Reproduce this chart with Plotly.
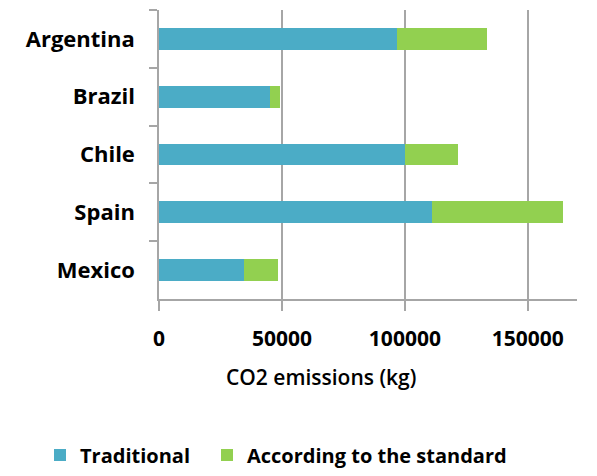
import plotly.graph_objects as go

countries = ["Argentina", "Brazil", "Chile", "Spain", "Mexico"]
traditional = [96700, 45000, 100000, 110900, 34400]
standard = [36600, 4100, 21800, 53600, 14000]
x_ticks = [0, 50000, 100000, 150000]

blue = "#4BACC6"
green = "#92D050"
font_family = "Open Sans"

fig = go.Figure()
fig.add_trace(go.Bar(y=countries, x=traditional, orientation="h", name="Traditional",
                     marker=dict(color=blue, line=dict(width=0)), legend="legend"))
fig.add_trace(go.Bar(y=countries, x=standard, orientation="h", name="According to the standard",
                     marker=dict(color=green, line=dict(width=0)), legend="legend2"))

legend_common = dict(orientation="h", xanchor="left", y=-(455 - 299) / 289, yanchor="middle",
                     font=dict(size=20, family=font_family, weight="bold"), itemwidth=30)

fig.update_layout(
    barmode="stack",
    bargap=0.62,
    width=597, height=476,
    margin=dict(l=159, r=20, t=10, b=177, autoexpand=False),
    plot_bgcolor="white", paper_bgcolor="white",
    font=dict(family=font_family, color="#000000"),
    showlegend=True,
    legend=dict(x=(40 - 159) / 418, **legend_common),
    legend2=dict(x=(207 - 159) / 418, **legend_common),
    annotations=[dict(text="CO2 emissions (kg)", xref="paper", yref="paper",
                      x=(321 - 159) / 418, y=-78 / 289, xanchor="center", yanchor="middle",
                      showarrow=False, font=dict(size=21, family=font_family, weight=600))],
)
fig.update_xaxes(
    range=[0, 170000], tickvals=x_ticks, ticktext=[str(v) for v in x_ticks],
    showgrid=True, gridcolor="#a6a6a6", gridwidth=1.5,
    showline=True, linecolor="#a6a6a6", linewidth=1.5,
    ticks="outside", ticklen=10, tickcolor="#a6a6a6", tickwidth=1.5,
    tickfont=dict(size=21, family=font_family, weight="bold"),
    ticklabelstandoff=10,
    zeroline=False,
)
fig.update_yaxes(
    autorange="reversed", type="category",
    showline=True, linecolor="#a6a6a6", linewidth=1.5,
    ticks="outside", ticklen=8, tickcolor="#a6a6a6", tickwidth=1.5,
    tickson="boundaries",
    tickfont=dict(size=22, family=font_family, weight="bold"),
    ticklabelstandoff=18,
    showgrid=False,
)

fig.write_html("out.html")
